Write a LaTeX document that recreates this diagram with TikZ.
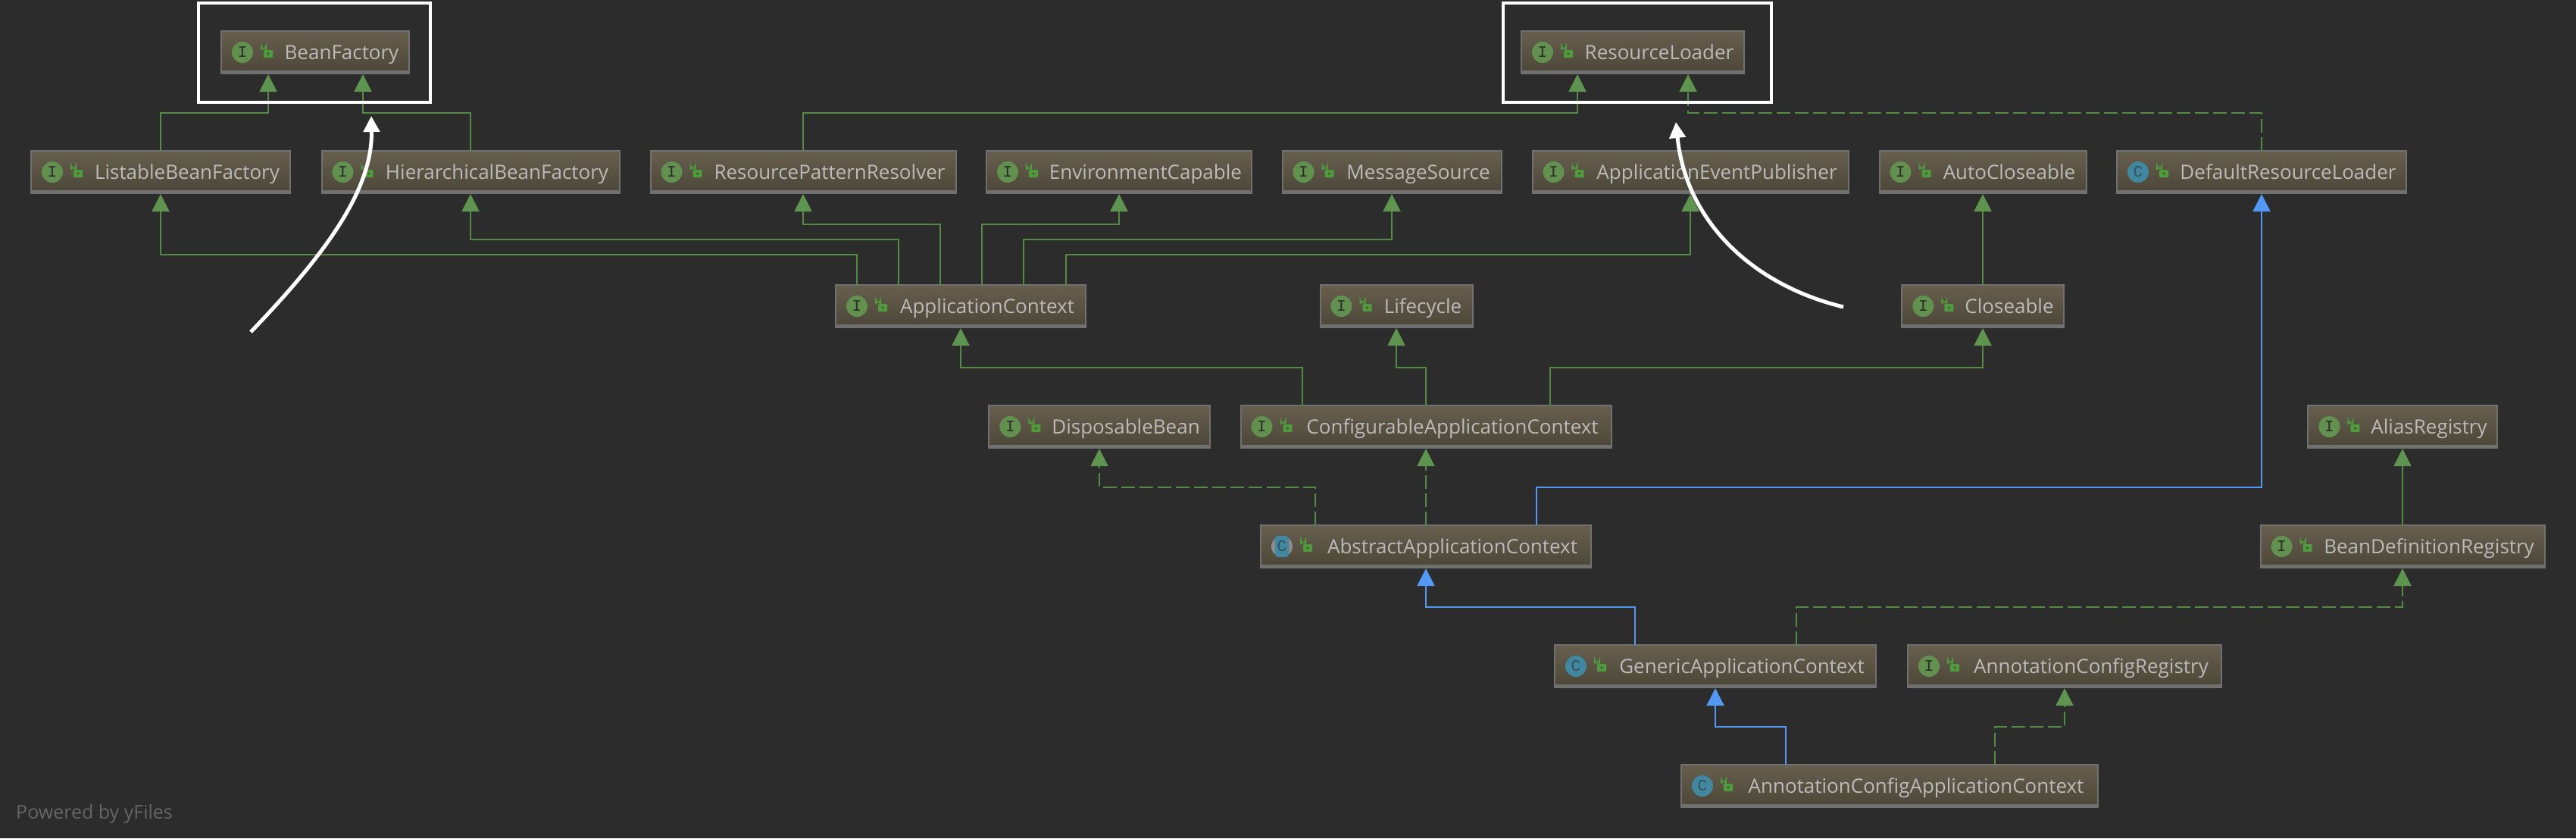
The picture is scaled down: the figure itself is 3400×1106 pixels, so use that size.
\documentclass[tikz,border=0pt]{standalone}
\usepackage{fontspec}
\setmainfont{Open Sans}
\setmonofont{Liberation Mono}
\usetikzlibrary{arrows.meta, positioning}
\definecolor{canvas}{HTML}{2C2C2C}
\definecolor{boxtop}{HTML}{675F4E}
\definecolor{boxbottom}{HTML}{4B4638}
\definecolor{boxedge}{HTML}{707070}
\definecolor{boxlabel}{HTML}{BBBBBB}
\definecolor{ifacefill}{HTML}{62904F}
\definecolor{classfill}{HTML}{40879F}
\definecolor{lockgreen}{HTML}{4F9A3C}
\definecolor{linkgreen}{HTML}{558A45}
\definecolor{headgreen}{HTML}{5F9450}
\definecolor{linkblue}{HTML}{5498F5}
\newcommand{\lockglyph}{
  \draw[lockgreen, line width=2pt] (path picture bounding box.west) ++(53,-3) -- ++(0,-5) arc[start angle=180, end angle=0, radius=3] -- ++(0,5);
  \fill[lockgreen, rounded corners=1pt] (path picture bounding box.west) ++(56,-3) rectangle ++(12,10);
  \fill[boxbottom] (path picture bounding box.west) ++(62,2) circle (1.6);
}
\newcommand{\boxband}{
  \fill[boxedge] (path picture bounding box.south west) rectangle ([yshift=4pt]path picture bounding box.south east);
}
\tikzset{
  typebox/.style={
    rectangle, draw=boxedge, line width=2pt, top color=boxtop, bottom color=boxbottom,
    minimum height=56pt, inner xsep=13pt, inner ysep=0pt, outer sep=0pt,
    text height=19pt, text depth=0pt, text=boxlabel,
    font=\fontsize{26}{30}\selectfont,
    execute at begin node={\hspace*{70pt}},
  },
  iconletter/.style={
    anchor=center, label distance=-28pt, inner sep=0pt,
    font=\fontsize{21}{21}\selectfont\ttfamily, text=canvas,
  },
  iface/.style={
    typebox, label={[iconletter]west:I},
    path picture={
      \boxband
      \fill[ifacefill] (path picture bounding box.west) ++(28,0) circle (14);
      \lockglyph
    },
  },
  klass/.style={
    typebox, label={[iconletter, text=canvas!60!classfill]west:C},
    path picture={
      \boxband
      \fill[classfill] (path picture bounding box.west) ++(28,0) circle (14);
      \lockglyph
    },
  },
  absklass/.style={
    typebox, label={[iconletter, text=canvas!60!classfill]west:C},
    path picture={
      \boxband
      \fill[black!45] (path picture bounding box.west) ++(28,0) circle (14);
      \fill[classfill, rounded corners=4pt] (path picture bounding box.west) ++(19,-14) rectangle ++(18,28);
      \lockglyph
    },
  },
  extends/.style={
    -{Triangle[length=23pt, width=23pt, color=headgreen]}, line width=2pt, draw=linkgreen, shorten >=1pt,
  },
  implements/.style={extends, dash pattern=on 18pt off 6pt},
  subclass/.style={
    -{Triangle[length=23pt, width=23pt, color=linkblue]}, line width=2pt, draw=linkblue, shorten >=1pt,
  },
  frame/.style={
    rectangle, draw=white, line width=4pt, minimum height=131pt, inner sep=0pt,
  },
  callout/.style={
    -{Triangle[length=21pt, width=21pt]}, line width=5pt, draw=white,
  },
  poweredby/.style={
    anchor=west, inner sep=0pt, text=black!60, font=\fontsize{25}{28}\selectfont,
  },
}
\begin{document}
\begin{tikzpicture}[x=1pt, y=-1pt]

  \useasboundingbox[fill=canvas] (0,0) rectangle (3400,1106);

  % top rows
  \node[iface, minimum width=248pt] (beanfactory) at (416,69) {BeanFactory};
  \node[iface, minimum width=294pt] (resourceloader) at (2155,69) {ResourceLoader};

  \node[iface, minimum width=342pt] (listable) at (212,227) {ListableBeanFactory};
  \node[iface, minimum width=393pt] (hierarchical) at (621,227) {HierarchicalBeanFactory};
  \node[iface, minimum width=403pt] (patternresolver) at (1060,227) {ResourcePatternResolver};
  \node[iface, minimum width=348pt] (envcapable) at (1477,227) {EnvironmentCapable};
  \node[iface, minimum width=289pt] (messagesource) at (1837,227) {MessageSource};
  \node[iface, minimum width=417pt] (eventpublisher) at (2231,227) {ApplicationEventPublisher};
  \node[iface, minimum width=273pt] (autocloseable) at (2617,227) {AutoCloseable};
  \node[klass, minimum width=382pt] (defaultloader) at (2985,227) {DefaultResourceLoader};

  \node[iface, minimum width=330pt] (appcontext) at (1268,404) {ApplicationContext};
  \node[iface, minimum width=201pt] (lifecycle) at (1843,404) {Lifecycle};
  \node[iface, minimum width=213pt] (closeable) at (2617,404) {Closeable};

  \node[iface, minimum width=291pt] (disposable) at (1451,563) {DisposableBean};
  \node[iface, minimum width=489pt] (configurable) at (1882,563) {ConfigurableApplicationContext};
  \node[iface, minimum width=249pt] (aliasregistry) at (3171,563) {AliasRegistry};

  \node[absklass, minimum width=436pt] (abstractcontext) at (1882,721) {AbstractApplicationContext};
  \node[iface, minimum width=375pt] (beanregistry) at (3171,721) {BeanDefinitionRegistry};

  \node[klass, minimum width=424pt] (genericcontext) at (2264,879) {GenericApplicationContext};
  \node[iface, minimum width=414pt] (annotationregistry) at (2725,879) {AnnotationConfigRegistry};

  \node[klass, minimum width=550pt] (annotationcontext) at (2494,1037) {AnnotationConfigApplicationContext};

  \node[poweredby] (yfiles) at (21,1074) {Powered by yFiles};

  % beanfactory and resourceloader parents
  \draw[extends] (listable.north) -- ++(0,-50) -| ([xshift=-62pt]beanfactory.south);
  \draw[extends] (hierarchical.north) -- ++(0,-50) -| ([xshift=63pt]beanfactory.south);
  \draw[extends] (patternresolver.north) -- ++(0,-50) -| ([xshift=-73pt]resourceloader.south);
  \draw[implements] (defaultloader.north) -- ++(0,-50) -| ([xshift=73pt]resourceloader.south);

  % applicationcontext parents
  \draw[extends] ([xshift=-137pt]appcontext.north) -- ++(0,-40) -| (listable.south);
  \draw[extends] ([xshift=-82pt]appcontext.north) -- ++(0,-60) -| (hierarchical.south);
  \draw[extends] ([xshift=-27pt]appcontext.north) -- ++(0,-80) -| (patternresolver.south);
  \draw[extends] ([xshift=28pt]appcontext.north) -- ++(0,-80) -| (envcapable.south);
  \draw[extends] ([xshift=83pt]appcontext.north) -- ++(0,-60) -| (messagesource.south);
  \draw[extends] ([xshift=139pt]appcontext.north) -- ++(0,-40) -| (eventpublisher.south);

  \draw[extends] (closeable.north) -- (autocloseable.south);

  \draw[extends] ([xshift=-163pt]configurable.north) -- ++(0,-50) -| (appcontext.south);
  \draw[extends] (configurable.north) -- ++(0,-50) -| (lifecycle.south);
  \draw[extends] ([xshift=164pt]configurable.north) -- ++(0,-50) -| (closeable.south);

  \draw[implements] ([xshift=-146pt]abstractcontext.north) -- ++(0,-50) -| (disposable.south);
  \draw[implements] (abstractcontext.north) -- (configurable.south);
  \draw[subclass] ([xshift=146pt]abstractcontext.north) -- ++(0,-50) -| (defaultloader.south);

  \draw[extends] (beanregistry.north) -- (aliasregistry.south);

  \draw[subclass] ([xshift=-106pt]genericcontext.north) -- ++(0,-50) -| (abstractcontext.south);
  \draw[implements] ([xshift=107pt]genericcontext.north) -- ++(0,-50) -| (beanregistry.south);

  \draw[subclass] ([xshift=-137pt]annotationcontext.north) -- ++(0,-50) -| (genericcontext.south);
  \draw[implements] ([xshift=139pt]annotationcontext.north) -- ++(0,-50) -| (annotationregistry.south);

  % white frames and arrows on top
  \node[frame, minimum width=306pt] (beanframe) at (415,69) {};
  \node[frame, minimum width=354pt] (loaderframe) at (2161,69) {};

  \coordinate (beanfrom) at (331,438);
  \coordinate (beantip) at (490,153);
  \coordinate (loaderfrom) at (2433,405);
  \coordinate (loadertip) at (2212,161);
  \draw[callout] (beanfrom) .. controls (430,335) and (492,250) .. (beantip);
  \draw[callout] (loaderfrom) .. controls (2310,375) and (2225,290) .. (loadertip);

\end{tikzpicture}
\end{document}
